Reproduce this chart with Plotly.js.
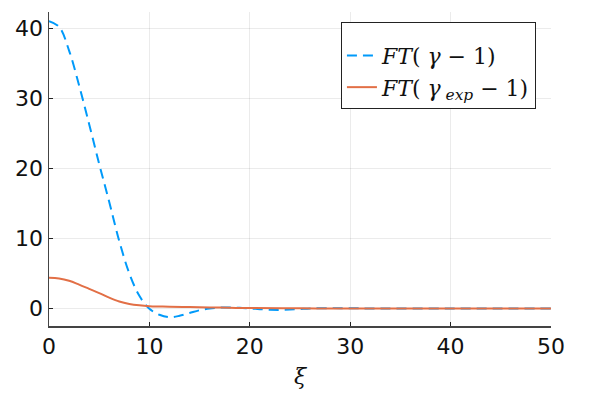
<!DOCTYPE html>
<html>
<head>
<meta charset="utf-8">
<script src="https://cdn.plot.ly/plotly-3.0.1.min.js"></script>
<style>
  body { margin: 0; }
  #chart { width: 600px; height: 400px; }
</style>
</head>
<body>
<div id="chart"></div>
<script>
// values
let xiFull = [0, 1, 2, 3, 4, 5, 6, 7, 8, 9, 10, 11, 12, 13, 14, 15, 16, 17, 18, 19, 20,
  21, 22, 23, 24, 25, 26, 28, 30, 32, 35, 40, 45, 50];
let ftGamma = [41.0, 40.2, 36.8, 31.8, 26.3, 20.6, 15.2, 9.6, 5.0, 1.8, -0.05, -0.9, -1.25,
  -1.05, -0.65, -0.25, 0.0, 0.12, 0.15, 0.1, 0.0, -0.1, -0.18, -0.2, -0.15, -0.08, 0.0, 0.05,
  0.03, 0.0, 0.0, 0.0, 0.0, 0.0];

let xiExp = [0, 1, 2, 3, 4, 5, 6, 7, 8, 9, 10, 11, 12, 14, 16, 18, 20, 25, 30, 40, 50];
let ftGammaExp = [4.4, 4.28, 3.95, 3.4, 2.8, 2.2, 1.55, 1.0, 0.65, 0.45, 0.33, 0.28, 0.25,
  0.2, 0.15, 0.1, 0.06, 0.02, 0.01, 0.0, 0.0];

let xTicks = [0, 10, 20, 30, 40, 50];
let yTicks = [0, 10, 20, 30, 40];

let labelGamma = "<i>FT</i>( <i>γ</i> − 1)";
let labelGammaExp = "<i>FT</i>( <i>γ</i><sub> <i>exp</i></sub> − 1)";

let traces = [
  {
    x: xiFull,
    y: ftGamma,
    mode: "lines",
    name: labelGamma,
    line: { color: "#009AFA", width: 2, dash: "10px,6px", shape: "spline" },
  },
  {
    x: xiExp,
    y: ftGammaExp,
    mode: "lines",
    name: labelGammaExp,
    line: { color: "#E26F46", width: 2, shape: "spline" },
  },
];

let axisCommon = {
  showline: true,
  linecolor: "#444",
  linewidth: 1.5,
  ticks: "inside",
  ticklen: 4,
  tickcolor: "#222",
  showgrid: true,
  gridcolor: "rgba(0,0,0,0.08)",
  gridwidth: 1,
  zeroline: false,
  tickfont: { family: "DejaVu Sans", size: 22, color: "#111" },
  mirror: false,
};

let layout = {
  width: 600,
  height: 400,
  margin: { l: 49, r: 49, t: 12, b: 74 },
  paper_bgcolor: "white",
  plot_bgcolor: "white",
  showlegend: true,
  xaxis: Object.assign({}, axisCommon, {
    range: [0, 50],
    tickvals: xTicks,
    title: { text: "<i>ξ</i>", font: { family: "DejaVu Serif", size: 22, color: "#111" }, standoff: 10 },
  }),
  yaxis: Object.assign({}, axisCommon, {
    range: [-2.5, 42.3],
    tickvals: yTicks,
  }),
  legend: {
    x: 0.97,
    y: 0.968,
    xanchor: "right",
    yanchor: "top",
    bgcolor: "white",
    bordercolor: "#222",
    borderwidth: 1,
    font: { family: "DejaVu Serif", size: 22, color: "#111" },
    title: { text: "&nbsp;", font: { size: 9 } },
    tracegroupgap: 0,
  },
};

Plotly.newPlot("chart", traces, layout, { staticPlot: true, displayModeBar: false });
</script>
</body>
</html>
